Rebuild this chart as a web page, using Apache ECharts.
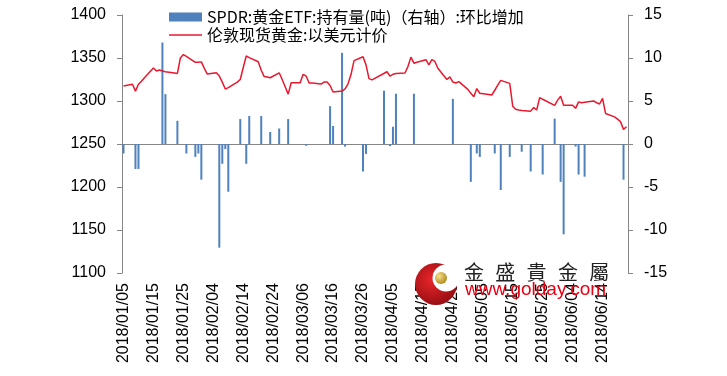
<!DOCTYPE html>
<html>
<head>
<meta charset="utf-8">
<script src="https://cdn.jsdelivr.net/npm/echarts@6/dist/echarts.min.js"></script>
<style>
  html, body { margin: 0; padding: 0; background: #fff; }
</style>
</head>
<body>
<div id="charts" style="width: 727px; height: 376px"></div>
<script>
// 伦敦现货黄金 (美元/盎司), 交易日
const goldDates = [
  '2018/01/05','2018/01/08','2018/01/09','2018/01/10','2018/01/11','2018/01/12',
  '2018/01/15','2018/01/16','2018/01/17','2018/01/18','2018/01/19',
  '2018/01/22','2018/01/23','2018/01/24','2018/01/25','2018/01/26',
  '2018/01/29','2018/01/30','2018/01/31','2018/02/01','2018/02/02',
  '2018/02/05','2018/02/06','2018/02/07','2018/02/08','2018/02/09',
  '2018/02/12','2018/02/13','2018/02/14','2018/02/15','2018/02/16',
  '2018/02/19','2018/02/20','2018/02/21','2018/02/22','2018/02/23',
  '2018/02/26','2018/02/27','2018/02/28','2018/03/01','2018/03/02',
  '2018/03/05','2018/03/06','2018/03/07','2018/03/08','2018/03/09',
  '2018/03/12','2018/03/13','2018/03/14','2018/03/15','2018/03/16',
  '2018/03/19','2018/03/20','2018/03/21','2018/03/22','2018/03/23',
  '2018/03/26','2018/03/27','2018/03/28','2018/03/29',
  '2018/04/03','2018/04/04','2018/04/05','2018/04/06',
  '2018/04/09','2018/04/10','2018/04/11','2018/04/12','2018/04/13',
  '2018/04/16','2018/04/17','2018/04/18','2018/04/19','2018/04/20',
  '2018/04/23','2018/04/24','2018/04/25','2018/04/26','2018/04/27',
  '2018/04/30','2018/05/01','2018/05/02','2018/05/03','2018/05/04',
  '2018/05/07','2018/05/08','2018/05/09','2018/05/10','2018/05/11',
  '2018/05/14','2018/05/15','2018/05/16','2018/05/17','2018/05/18',
  '2018/05/21','2018/05/22','2018/05/23','2018/05/24','2018/05/25',
  '2018/05/29','2018/05/30','2018/05/31','2018/06/01',
  '2018/06/04','2018/06/05','2018/06/06','2018/06/07','2018/06/08',
  '2018/06/11','2018/06/12','2018/06/13','2018/06/14','2018/06/15',
  '2018/06/18','2018/06/19','2018/06/20','2018/06/21','2018/06/22'
]
const goldPrice = [
  1317.5, 1319.5, 1311.5, 1319.5, 1323, 1327,
  1338.5, 1334.8, 1336, 1334.8, 1334,
  1332.5, 1332, 1350, 1354, 1352,
  1345, 1345, 1345.5, 1338, 1331.3,
  1332.8, 1329, 1322, 1314, 1315.5,
  1322, 1325, 1339, 1352.3, 1350.5,
  1345.6, 1335.7, 1328.4, 1327.8, 1327,
  1332.8, 1325, 1316.6, 1308, 1321.2,
  1321.2, 1331, 1329, 1321, 1320.8,
  1319.7, 1322, 1322, 1318, 1310.4,
  1311.5, 1314, 1320, 1331, 1347,
  1351.5, 1342, 1326, 1324.5,
  1334, 1329, 1331, 1332,
  1332.5, 1340, 1351, 1344, 1345,
  1348, 1342, 1348, 1346, 1338,
  1325, 1328, 1322, 1321, 1322.5,
  1313.5, 1309, 1305, 1314.5, 1309,
  1307.5, 1307, 1312.5, 1318.5, 1324,
  1320.5, 1294, 1290.5, 1289.5, 1289,
  1288.2, 1292.5, 1289.5, 1304, 1302,
  1295, 1301, 1305.5, 1295,
  1295, 1291.5, 1299, 1298, 1298.5,
  1300, 1298, 1296.5, 1303, 1285.5,
  1281.5, 1279, 1276, 1267, 1270
]

// SPDR 持有量环比增加 (吨), 右轴
const etfDates = [
  '2018/01/05','2018/01/09','2018/01/10','2018/01/18','2018/01/19','2018/01/23',
  '2018/01/26','2018/01/29','2018/01/30','2018/01/31','2018/02/06','2018/02/07',
  '2018/02/08','2018/02/09','2018/02/13','2018/02/15','2018/02/16','2018/02/20',
  '2018/02/23','2018/02/26','2018/03/01','2018/03/07','2018/03/15','2018/03/16',
  '2018/03/19','2018/03/20','2018/03/26','2018/03/27','2018/04/02','2018/04/04',
  '2018/04/05','2018/04/06','2018/04/12','2018/04/25','2018/05/01','2018/05/03',
  '2018/05/04','2018/05/09','2018/05/11','2018/05/14','2018/05/18','2018/05/21',
  '2018/05/25','2018/05/29','2018/05/31','2018/06/01','2018/06/05','2018/06/06',
  '2018/06/08','2018/06/21'
]
const etfChange = [
  -1.1, -2.9, -2.9, 11.8, 5.8, 2.7,
  -1.1, -1.5, -1.1, -4.15, -12.05, -2.3,
  -0.6, -5.55, 2.9, -2.3, 3.25, 3.25,
  1.4, 1.8, 2.9, -0.2, 4.4, 2.1,
  10.6, -0.3, -3.2, -1.15, 6.2, -0.25,
  2.0, 5.85, 5.85, 5.25, -4.4, -1.1,
  -1.5, -1.1, -5.35, -1.5, -0.9, -3.2,
  -3.55, 2.95, -4.4, -10.5, -0.3, -3.55,
  -3.8, -4.15
]

const firstDay = new Date(2018, 0, 5)
const lastDay = new Date(2018, 5, 22)

const pad = (n) => (n < 10 ? '0' + n : '' + n)
let days = []
for (let t = new Date(firstDay); t <= lastDay; t.setDate(t.getDate() + 1)) {
  days.push(t.getFullYear() + '/' + pad(t.getMonth() + 1) + '/' + pad(t.getDate()))
}

let goldData = days.map(() => null)
goldDates.forEach((d, i) => { goldData[days.indexOf(d)] = goldPrice[i] })
let etfData = days.map(() => '-')
etfDates.forEach((d, i) => { etfData[days.indexOf(d)] = etfChange[i] })

const axisColor = '#868686'
const numFont = 'Liberation Sans'
const lineColor = '#e8182e'
const barName = 'SPDR:黄金ETF:持有量(吨)（右轴）:环比增加'
const lineName = '伦敦现货黄金:以美元计价'

let myChart = echarts.init(document.getElementById('charts'))
let option = {
  animation: false,
  backgroundColor: '#fff',
  legend: {
    orient: 'vertical',
    left: 164,
    top: 4,
    itemGap: 2,
    itemWidth: 33,
    itemHeight: 9,
    textStyle: { fontSize: 16, lineHeight: 16, color: '#000', fontFamily: 'Noto Sans CJK SC' },
    data: [
      { name: barName, icon: 'rect' },
      { name: lineName, icon: 'path://M0,0 L100,0 L100,4 L0,4 Z' }
    ]
  },
  grid: { left: 122, right: 99, top: 15, bottom: 103 },
  xAxis: {
    type: 'category',
    data: days,
    boundaryGap: true,
    axisLine: { lineStyle: { color: axisColor } },
    axisTick: { interval: 9, length: 5, lineStyle: { color: axisColor } },
    axisLabel: { interval: 9, rotate: 90, margin: 10, fontSize: 16, color: '#000', fontFamily: numFont }
  },
  yAxis: [
    {
      type: 'value',
      min: 1100,
      max: 1400,
      interval: 50,
      splitLine: { show: false },
      axisLine: { show: true, lineStyle: { color: axisColor } },
      axisTick: { show: true, length: 5, lineStyle: { color: axisColor } },
      axisLabel: { margin: 16, fontSize: 16, color: '#000', fontFamily: numFont, formatter: (v) => String(v) }
    },
    {
      type: 'value',
      min: -15,
      max: 15,
      interval: 5,
      splitLine: { show: false },
      axisLine: { show: true, lineStyle: { color: axisColor } },
      axisTick: { show: true, length: 5, lineStyle: { color: axisColor } },
      axisLabel: { margin: 16, fontSize: 16, color: '#000', fontFamily: numFont }
    }
  ],
  series: [
    {
      name: barName,
      type: 'bar',
      yAxisIndex: 1,
      barWidth: 2,
      itemStyle: { color: '#4f81bd' },
      data: etfData
    },
    {
      name: lineName,
      type: 'line',
      yAxisIndex: 0,
      symbol: 'none',
      connectNulls: true,
      lineStyle: { color: lineColor, width: 1.5 },
      itemStyle: { color: lineColor },
      data: goldData
    }
  ],
  // 水印 金盛贵金属
  graphic: [
    {
      type: 'circle', shape: { cx: 436, cy: 284, r: 21 }, z: 100,
      style: {
        fill: new echarts.graphic.RadialGradient(0.4, 0.4, 0.7, [
          { offset: 0, color: '#e8262a' }, { offset: 1, color: '#8e0b10' }
        ])
      }
    },
    { type: 'circle', shape: { cx: 446, cy: 278, r: 13.5 }, z: 101, style: { fill: '#fff' } },
    {
      type: 'circle', shape: { cx: 441, cy: 278, r: 6 }, z: 102,
      style: {
        fill: new echarts.graphic.RadialGradient(0.35, 0.35, 0.7, [
          { offset: 0, color: '#f7e08a' }, { offset: 1, color: '#b08a1c' }
        ])
      }
    },
    ...['金', '盛', '貴', '金', '屬'].map((ch, i) => ({
      type: 'text', z: 102,
      style: {
        text: ch, x: 474 + i * 31.3, y: 272, fill: '#222',
        font: '20px "Noto Sans CJK TC"', align: 'center', verticalAlign: 'middle'
      }
    })),
    {
      type: 'text', z: 102,
      style: {
        text: 'www.golday.com', x: 465, y: 290, fill: '#e60012',
        font: '19px "Liberation Sans"', align: 'left', verticalAlign: 'middle'
      }
    }
  ]
}
myChart.setOption(option)
</script>
</body>
</html>
